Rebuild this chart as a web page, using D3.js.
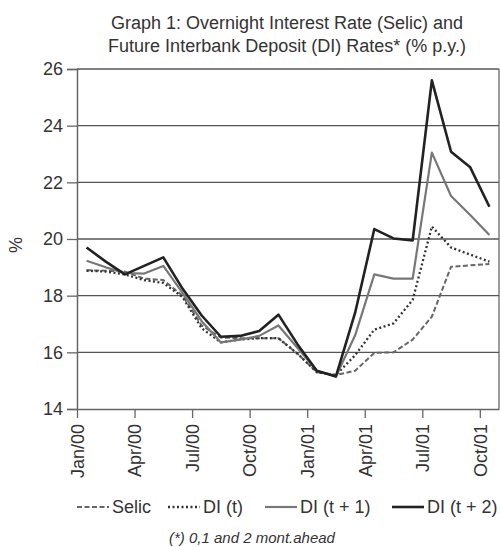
<!DOCTYPE html>
<html>
<head>
<meta charset="utf-8">
<script src="https://cdn.jsdelivr.net/npm/d3@7"></script>
<style>
  html, body { margin: 0; padding: 0; background: #fff; }
  svg { display: block; font-family: "Liberation Sans", Arial, sans-serif; }
</style>
</head>
<body>
<svg id="chart" width="500" height="547"></svg>
<script>
// ---- data ----
const months = ["Jan/00","Feb/00","Mar/00","Apr/00","May/00","Jun/00","Jul/00","Aug/00","Sep/00","Oct/00","Nov/00","Dec/00",
                "Jan/01","Feb/01","Mar/01","Apr/01","May/01","Jun/01","Jul/01","Aug/01","Sep/01","Oct/01"];
const tickLabels = ["Jan/00","Apr/00","Jul/00","Oct/00","Jan/01","Apr/01","Jul/01","Oct/01"];
const yTicks = [14, 16, 18, 20, 22, 24, 26];

const selic = [18.9, 18.88, 18.85, 18.6, 18.55, 18.0, 16.95, 16.52, 16.5, 16.5, 16.5, 15.95,
               15.3, 15.2, 15.35, 15.98, 16.0, 16.45, 17.26, 19.02, 19.07, 19.12];
const diT   = [18.88, 18.85, 18.75, 18.55, 18.45, 17.95, 16.85, 16.35, 16.45, 16.5, 16.5, 15.95,
               15.3, 15.2, 15.9, 16.8, 17.02, 17.85, 20.44, 19.7, 19.45, 19.2];
const diT1  = [19.23, 19.0, 18.8, 18.78, 19.05, 18.1, 17.1, 16.35, 16.45, 16.58, 16.95, 16.15,
               15.35, 15.15, 16.6, 18.75, 18.6, 18.6, 23.05, 21.52, 20.85, 20.14];
const diT2  = [19.7, 19.2, 18.75, 19.05, 19.35, 18.25, 17.3, 16.55, 16.58, 16.75, 17.33, 16.28,
               15.35, 15.15, 17.4, 20.35, 20.02, 19.95, 25.6, 23.08, 22.53, 21.14];

const seriesNames = ["Selic", "DI (t)", "DI (t + 1)", "DI (t + 2)"];
const seriesValues = [selic, diT, diT1, diT2];

// ---- layout ----
const svg = d3.select("#chart");
const mLeft = 77, mRight = 499, mTop = 69, mBottom = 409;
const textColor = "#333";
const fontFamily = "Liberation Sans, Arial, sans-serif";

const x = d3.scaleLinear().domain([0, months.length]).range([mLeft, mRight]);
const y = d3.scaleLinear().domain([14, 26]).range([mBottom, mTop]);

// gridlines
svg.append("g").selectAll("line")
  .data(yTicks.filter(t => t > 14))
  .join("line")
  .attr("x1", mLeft).attr("x2", mRight)
  .attr("y1", d => y(d)).attr("y2", d => y(d))
  .attr("stroke", "#555").attr("stroke-width", 1.3);

// right border
svg.append("line")
  .attr("x1", mRight).attr("x2", mRight).attr("y1", mTop).attr("y2", mBottom)
  .attr("stroke", "#666").attr("stroke-width", 1.3);

// y axis
const yAxis = svg.append("g")
  .attr("transform", `translate(${mLeft},0)`)
  .call(d3.axisLeft(y).tickValues(yTicks).tickSize(10).tickPadding(4).tickFormat(d3.format("d")));
yAxis.select(".domain").attr("stroke", "#666").attr("stroke-width", 1.5);
yAxis.selectAll(".tick line").attr("stroke", "#666").attr("stroke-width", 1.3);
yAxis.selectAll("text").attr("font-size", 18).attr("fill", textColor)
  .attr("font-family", fontFamily);

// x axis
const qIdx = tickLabels.map(l => months.indexOf(l));
const xAxis = svg.append("g")
  .attr("transform", `translate(0,${mBottom})`)
  .call(d3.axisBottom(x).tickValues(qIdx).tickSize(9).tickSizeOuter(0)
        .tickFormat(i => months[i]));
xAxis.select(".domain").attr("stroke", "#666").attr("stroke-width", 1.5);
xAxis.selectAll(".tick line").attr("stroke", "#666").attr("stroke-width", 1.3);
xAxis.selectAll("text")
  .attr("font-size", 18).attr("fill", textColor)
  .attr("font-family", fontFamily)
  .attr("text-anchor", "end")
  .attr("transform", "rotate(-90)")
  .attr("x", -15).attr("y", 0).attr("dy", "0.35em");

// y title
svg.append("text")
  .attr("transform", `translate(22,245) rotate(-90)`)
  .attr("text-anchor", "middle")
  .attr("font-size", 18).attr("fill", textColor)
  .text("%");

// title
const title = svg.append("text")
  .attr("text-anchor", "middle").attr("font-size", 18).attr("fill", textColor);
title.append("tspan").attr("x", 287).attr("y", 29).text("Graph 1: Overnight Interest Rate (Selic) and");
title.append("tspan").attr("x", 287).attr("y", 52).text("Future Interbank Deposit (DI) Rates* (% p.y.)");

// lines
const styles = [
  { color: "#666", width: 2, dash: "5,2.5" },
  { color: "#333", width: 2.3, dash: "2,2.5" },
  { color: "#777", width: 2.2, dash: null },
  { color: "#222", width: 2.6, dash: null }
];
const line = d3.line().x((d, i) => x(i + 0.5)).y(d => y(d));
seriesValues.forEach((vals, k) => {
  svg.append("path")
    .datum(vals)
    .attr("fill", "none")
    .attr("stroke", styles[k].color)
    .attr("stroke-width", styles[k].width)
    .attr("stroke-dasharray", styles[k].dash)
    .attr("stroke-linejoin", "round")
    .attr("d", line);
});

// legend
const legendX = [77, 168, 265, 392];
const lg = svg.append("g");
seriesNames.forEach((name, k) => {
  const g = lg.append("g").attr("transform", `translate(${legendX[k]},507)`);
  g.append("line").attr("x1", 0).attr("x2", 32).attr("y1", 0).attr("y2", 0)
    .attr("stroke", styles[k].color).attr("stroke-width", styles[k].width)
    .attr("stroke-dasharray", styles[k].dash);
  g.append("text").attr("x", 35).attr("y", 0).attr("dy", "0.35em")
    .attr("font-size", 18).attr("fill", textColor).text(name);
});

// footnote
svg.append("text")
  .attr("x", 252).attr("y", 543).attr("text-anchor", "middle")
  .attr("font-size", 15).attr("font-style", "italic").attr("fill", textColor)
  .text("(*) 0,1 and 2 mont.ahead");
</script>
</body>
</html>
